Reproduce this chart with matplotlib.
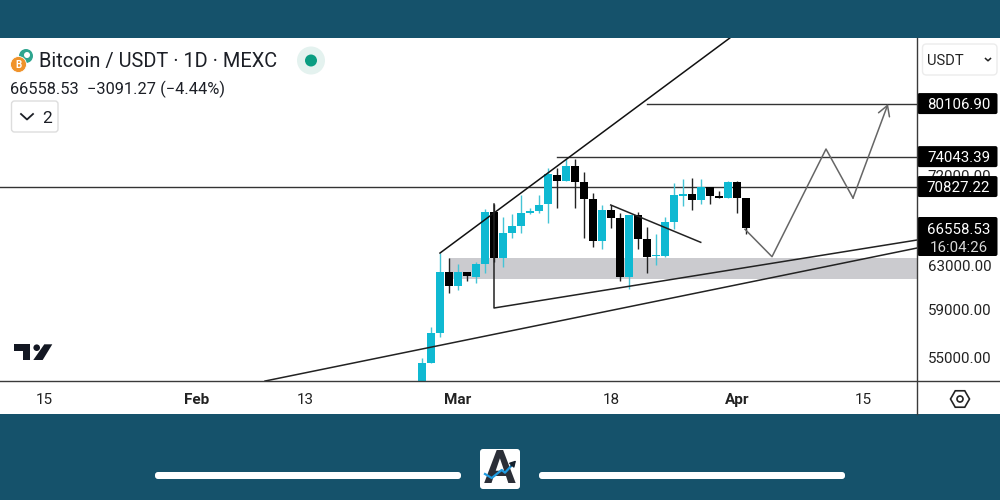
#!/usr/bin/env python3
import matplotlib
matplotlib.use("Agg")
import matplotlib.pyplot as plt
from matplotlib.patches import Circle, FancyBboxPatch, Polygon, Rectangle, RegularPolygon

plt.rcParams["font.family"] = ["Roboto", "DejaVu Sans"]

# one candle per day, day 0 = 1 Mar
DAYS = list(range(-4, 33))
OPENS = [52372, 54488, 57019, 62419, 61137, 62419, 61960, 63134, 68232, 63672, 66110, 66798, 68131,
         68303, 68985, 72085, 71443, 73016, 71337, 69496, 65330, 68404, 67628, 61960, 67869, 65522,
         63861, 63921, 67166, 69872, 70015, 69427, 70780, 69872, 69603, 71308, 69663]
CLOSES = [54488, 57019, 62419, 61137, 62392, 62024, 63134, 68232, 63672, 66110, 66798, 68131, 68303,
          68914, 72125, 71443, 73016, 71337, 69496, 65330, 68404, 67565, 61902, 67869, 65522, 63768,
          64015, 67228, 69911, 70015, 69459, 70780, 69872, 69603, 71308, 69630, 66558.53]
HIGHS = [54918, 57529, 64173, 63700, 63134, 62419, 63354, 68506, 69016, 67701, 68001, 69942, 68607,
         69942, 72806, 72806, 73783, 73783, 72402, 70150, 68914, 68914, 68131, 67950, 68232, 66671,
         66011, 67666, 71203, 71594, 71764, 71594, 70780, 70361, 71379, 71379, 69663]
LOWS = [52372, 54488, 56682, 60478, 60748, 61594, 61381, 62300, 63325, 62859, 65620, 66110, 68001,
        68131, 67095, 68638, 71443, 68638, 65593, 64779, 64558, 66632, 61594, 60841, 64558, 62326,
        63044, 63825, 66473, 68843, 68404, 68985, 69016, 69603, 69603, 68068, 66011]

# drawings on the chart, as (day, price)
LEVELS = [70827.22, 74043.39, 80106.90]
LEVEL_STARTS = [-51, 11, 21]
CHANNEL_DAYS = [-2, 30.2]
CHANNEL_PRICES = [64173, 88293]
WEDGE_DAYS = [4, 4, 51]
WEDGE_PRICES = [69016, 59148, 65426]
SUPPORT_DAYS = [-21.44, 51]
SUPPORT_PRICES = [53074, 64653]
FALLING_DAYS = [16.97, 26.97]
FALLING_PRICES = [68914, 65202]
PATH_DAYS = [31.89, 34.89, 40.89, 43.89, 47.78]
PATH_PRICES = [66473, 63825, 74882, 69630, 80056]
ZONE_START = -1
ZONE_PRICES = [61748, 63672]

X_TICKS = [-46, -29, -17, 0, 17, 31, 45]
X_LABELS = ["15", "Feb", "13", "Mar", "18", "Apr", "15"]
BOLD_LABELS = {"Feb", "Mar", "Apr"}
PRICE_TICKS = [55000, 59000, 63000, 72000]
PRICE_TICK_LABELS = ["55000.00", "59000.00", "63000.00", "72000.00"]

TAG_PRICES = [80106.90, 74043.39, 70827.22]
TAG_LABELS = ["80106.90", "74043.39", "70827.22"]

TEAL = "#15526b"
CYAN = "#0fb9d2"
DARK = "#131722"
Y_RANGE = (53076, 88293)
X_RANGE = (-458 / 9, 51)

fig = plt.figure(figsize=(10, 5), dpi=100, facecolor=TEAL)
fig.add_artist(Rectangle((0, 86 / 500), 1, 376 / 500, transform=fig.transFigure, fc="white", ec="none", zorder=-1))

ax = fig.add_axes([0, 119 / 500, 917 / 1000, 343 / 500], facecolor="none")
ax.set_yscale("log")
ax.set_xlim(*X_RANGE)
ax.set_ylim(*Y_RANGE)
for spine in ax.spines.values():
    spine.set_visible(False)
ax.minorticks_off()
ax.set_yticks([])
ax.set_xticks(X_TICKS, X_LABELS)
ax.tick_params(axis="x", length=0, pad=8.5, labelsize=11, colors="#222222")
for label in ax.get_xticklabels():
    if label.get_text() in BOLD_LABELS:
        label.set_fontweight("bold")

# zone and levels go under the candles
ax.fill_between([ZONE_START, X_RANGE[1]], ZONE_PRICES[0], ZONE_PRICES[1], color="#cbcbcf", lw=0, zorder=1)
for level, start in zip(LEVELS, LEVEL_STARTS):
    ax.plot([start, X_RANGE[1]], [level, level], color="#333333", lw=1.0, zorder=2)

for day, o, c, h, l in zip(DAYS, OPENS, CLOSES, HIGHS, LOWS):
    color = CYAN if c >= o else "black"
    wick = "#45c4d6" if c >= o else "#222222"
    ax.vlines(day, l, h, color=wick, lw=1.0, zorder=3)
    ax.bar(day, abs(c - o), bottom=min(o, c), width=0.84, color=color, lw=0, zorder=4)

ax.plot(CHANNEL_DAYS, CHANNEL_PRICES, color="#111111", lw=1.1, zorder=5)
ax.plot(WEDGE_DAYS, WEDGE_PRICES, color="#222222", lw=1.1, zorder=5)
ax.plot(SUPPORT_DAYS, SUPPORT_PRICES, color="#222222", lw=1.1, zorder=5)
ax.plot(FALLING_DAYS, FALLING_PRICES, color="#222222", lw=1.1, zorder=5)
ax.plot(PATH_DAYS[:-1], PATH_PRICES[:-1], color="#666666", lw=1.1, zorder=5)
ax.annotate("", xy=(PATH_DAYS[-1], PATH_PRICES[-1]), xytext=(PATH_DAYS[-2], PATH_PRICES[-2]), zorder=5,
            arrowprops=dict(arrowstyle="->,head_length=0.6,head_width=0.35", color="#666666", lw=1.1,
                            shrinkA=0, shrinkB=0, mutation_scale=12))

# price scale on the right, labels pulled inside the axes
ax_price = fig.add_axes([917 / 1000, 119 / 500, 83 / 1000, 343 / 500], facecolor="none")
ax_price.set_yscale("log")
ax_price.set_ylim(*Y_RANGE)
ax_price.set_xticks([])
for spine in ax_price.spines.values():
    spine.set_visible(False)
ax_price.minorticks_off()
ax_price.set_yticks(PRICE_TICKS, PRICE_TICK_LABELS)
ax_price.tick_params(axis="y", length=0, labelsize=10.9, colors="#222222", pad=-53.5)


# everything else is screen furniture, in pixel coordinates
top = fig.add_axes([0, 0, 1, 1], facecolor="none", zorder=10)
top.set_xlim(0, 1000)
top.set_ylim(500, 0)
top.axis("off")


def price_to_px(price):
    return 500 - ax.transData.transform((0, price))[1]


def rounded(x0, y0, x1, y1, radius, **kw):
    top.add_patch(FancyBboxPatch((x0 + radius, y0 + radius), x1 - x0 - 2 * radius, y1 - y0 - 2 * radius,
                                 boxstyle=f"round,pad={radius},rounding_size={radius}", **kw))


def tag(center, label):
    rounded(917.5, center - 10.5, 997.5, center + 10.5, 2, fc="black", ec="none")
    top.text(958.5, center, label, color="white", fontsize=10.8, ha="center", va="center_baseline")


# axis frame
top.plot([0, 1000], [381, 381], color="#3a3a3a", lw=1.0)
top.plot([917, 917], [38, 414], color="#3a3a3a", lw=1.0)

for price, label in zip(TAG_PRICES, TAG_LABELS):
    tag(price_to_px(price), label)
rounded(917.5, 217, 997.5, 256, 2, fc="black", ec="none")
top.text(958.5, 229, "66558.53", color="white", fontsize=10.8, ha="center", va="center_baseline")
top.text(958.5, 246.5, "16:04:26", color="#d8d8d8", fontsize=10.8, ha="center", va="center_baseline")

# header
top.add_patch(Circle((26, 56), 7, fc="#2ea58f", ec="none"))
top.add_patch(Circle((27, 55), 3, fc="white", ec="none"))
top.add_patch(Circle((18.5, 64.5), 8, fc="#f0932b", ec="white", lw=0.6))
top.text(18.5, 65, "B", color="white", fontsize=7, fontweight="bold", ha="center", va="center")
top.text(39, 60, "Bitcoin / USDT · 1D · MEXC", color="#1c1f26", fontsize=14.45, ha="left", va="center_baseline")
top.add_patch(Circle((311, 60.5), 14, fc="#e4f2ef", ec="none"))
top.add_patch(Circle((311, 60.5), 6, fc="#0b9d82", ec="none"))
top.text(10, 87, "66558.53  −3091.27 (−4.44%)", color="#1c1f26", fontsize=11.75, ha="left", va="center_baseline")
rounded(11.5, 101, 58, 132, 3, fc="white", ec="#dddddd", lw=1.0)
top.plot([21, 27, 33], [114, 119.5, 114], color="#1c1f26", lw=1.3)
top.text(47, 117, "2", color="#1c1f26", fontsize=12.5, ha="center", va="center_baseline")

# currency selector
rounded(922.5, 44, 997, 75, 4, fc="white", ec="#ececec", lw=1.0)
top.text(926.5, 59.5, "USDT", color="#222222", fontsize=10.6, ha="left", va="center_baseline")
top.plot([985.5, 988, 990.5], [58.5, 60.8, 58.5], color="#222222", lw=1.1)

# TradingView mark
top.add_patch(Polygon([(14.3, 344.3), (30, 344.3), (30, 360), (23.3, 360), (23.3, 350.5), (14.3, 350.5)],
                      fc=DARK, ec="none"))
top.add_patch(Circle((36.7, 347.7), 3.3, fc=DARK, ec="none"))
top.add_patch(Polygon([(44.3, 344.3), (52.3, 344.3), (42.7, 360), (33.3, 360)], fc=DARK, ec="none"))

# settings hexagon
top.add_patch(RegularPolygon((960, 399), 6, radius=9.5, orientation=3.14159 / 6, fc="white", ec="#222222", lw=1.2))
top.add_patch(Circle((960, 399), 3, fc="white", ec="#222222", lw=1.2))

# footer bars and badge
rounded(155, 472, 461, 479, 3, fc="white", ec="none")
rounded(539, 472, 845, 479, 3, fc="white", ec="none")
rounded(480, 449, 520, 489, 3, fc="white", ec="none")
top.text(500, 470, "A", color="#2b2f38", fontsize=34, fontweight="bold", ha="center", va="center", zorder=3)
top.plot([485, 491.7, 501.7, 505, 513], [474, 478, 470, 472.7, 464], color="#1f9be0", lw=1.6, zorder=4)
top.annotate("", xy=(516, 460.5), xytext=(511, 466), zorder=4,
             arrowprops=dict(arrowstyle="-|>,head_length=0.35,head_width=0.2", color="#14202c", lw=1.0,
                             shrinkA=0, shrinkB=0, mutation_scale=10))

fig.savefig("out.png", dpi=100, facecolor=TEAL)
